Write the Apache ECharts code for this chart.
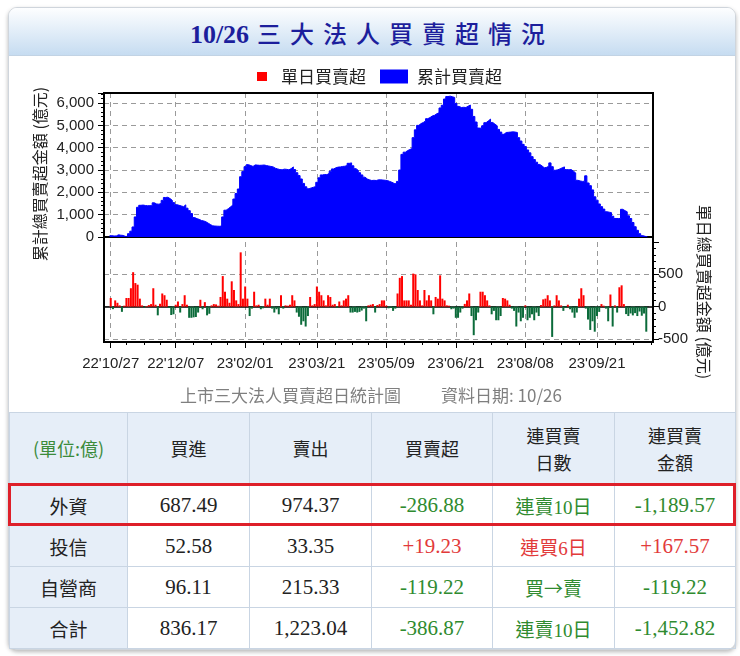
<!DOCTYPE html>
<html>
<head>
<meta charset="utf-8">
<script src="https://cdn.jsdelivr.net/npm/echarts@6/dist/echarts.min.js"></script>
<style>
  html, body { margin: 0; padding: 0; width: 740px; height: 656px; overflow: hidden; background: #fff; font-family: "Noto Sans CJK TC", sans-serif; }
  #card { position: absolute; left: 8px; top: 7px; width: 728px; height: 643px; box-sizing: border-box; border: 1px solid #cfd5dc; border-radius: 9px; box-shadow: 0 2px 4px rgba(0,0,0,0.28); background: #fff; }
  #head { position: absolute; left: 9px; top: 8px; width: 726px; height: 47px; border-radius: 8px 8px 0 0; background: linear-gradient(#fdfeff, #c6dcf1); border-bottom: 1px solid #c2d3e4; text-align: center; line-height: 50px; color: #1c1e9c; font-size: 24px; white-space: nowrap; }
  #head .d { font-family: "Liberation Serif", serif; font-weight: bold; font-size: 26px; letter-spacing: 0; }
  #head .t { font-family: "Noto Sans CJK TC", sans-serif; font-weight: 500; letter-spacing: 9px; margin-left: 8px; }
  #chart { position: absolute; left: 0; top: 0; width: 740px; height: 412px; }
  #tbl { position: absolute; left: 9px; top: 412px; width: 726px; border-collapse: collapse; table-layout: fixed; }
  #tbl td { border: 1px solid #c9d5e3; text-align: center; padding: 0; color: #222; }
  #tbl tr.hd td { height: 71px; background: #e6eef8; font-size: 18px; line-height: 27px; }
  #tbl tr.rw td { height: 40px; font-family: "Liberation Serif", serif; font-size: 21px; }
  #tbl tr.rw td.nm { background: #e6eef8; font-family: "Noto Sans CJK TC", sans-serif; font-size: 19px; }
  #tbl td.cj { font-family: "Noto Sans CJK TC", sans-serif !important; font-size: 19px !important; }
  #tbl td.unit { color: #3b8b3b; font-size: 16px; }
  #mark { position: absolute; left: 8px; top: 483px; width: 728px; height: 43px; box-sizing: border-box; border: 3px solid #de1f29; }
</style>
</head>
<body>
<div id="card"></div>
<div id="head"><span class="d">10/26</span><span class="t">三大法人買賣超情況</span></div>
<div id="chart"></div>
<table id="tbl"></table>
<div id="mark"></div>
<script>
// Daily net buy/sell of the three institutional investors (億元), one value per trading day
const dailyNet = [
  134, -38, 97, 60, 20, -80, 15, 134, 134, 285,
  533, 365, 340, 124, 20, -16, 10, 25, 40, 285,
  30, -134, 45, 204, 177, 107, -20, -129, -118, 30,
  80, -91, 40, 177, 30, -172, -172, -165, -160, -91,
  107, -40, 70, -134, -110, 20, 40, 35, 15, 150,
  473, 231, 124, 60, 392, 258, 97, 40, 840, 124,
  312, 124, -145, -30, 231, 20, 30, -40, -25, 124,
  30, 124, -30, -91, -40, -118, 177, -30, 20, 15,
  30, 177, 97, -91, -156, -280, -226, -307, -145, 150,
  20, 40, 312, 231, 177, 97, 20, 177, 150, 30,
  40, -20, 80, 20, 97, 124, 177, -91, -91, -81,
  -91, -81, -60, -30, -226, 20, 30, 40, -91, 25,
  40, 97, 97, 15, -25, -20, -65, -30, 204, 446,
  473, 97, 97, 97, 30, 511, 500, 258, 97, 20,
  258, 97, 177, 97, -118, 150, 124, 484, 124, 97,
  20, 15, -40, -30, -172, -172, -91, -30, 43, 97,
  204, -145, -441, -210, -91, 231, 231, 177, 97, 20,
  -118, -65, -210, -210, -145, 134, 124, 97, 30, -30,
  -65, -307, -91, -226, -172, 20, -210, -172, -118, -210,
  -91, -145, 25, 113, 124, 177, 97, -468, 20, 177,
  97, 20, -65, -20, 30, -40, -91, -172, -91, 124,
  285, 177, -30, -199, -360, -226, -387, -145, -81, 40,
  15, -30, -226, 188, -307, 20, -91, 300, 330, 40,
  -115, -145, -105, -135, -100, -145, -75, -140, -106, -386.87
];

// Cumulative net buy/sell (億元)
const cumNet = [
  60, 45, 50, 100, 80, 70, 30, 25, 150, 260,
  450, 900, 1330, 1420, 1430, 1410, 1400, 1405, 1400, 1530,
  1480, 1470, 1500, 1640, 1770, 1780, 1720, 1640, 1540, 1450,
  1420, 1390, 1360, 1440, 1290, 1180, 1050, 870, 820, 790,
  740, 720, 680, 620, 560, 500, 490, 485, 480, 490,
  900, 1200, 1270, 1350, 1430, 1700, 1950, 2150, 2700, 2930,
  3150, 3240, 3200, 3160, 3230, 3220, 3210, 3215, 3225, 3200,
  3180, 3160, 3140, 3080, 3050, 3020, 3010, 3040, 3030, 3010,
  3060, 3140, 3020, 2880, 2750, 2600, 2400, 2250, 2160, 2200,
  2230, 2260, 2450, 2650, 2780, 2800, 2790, 2850, 2950, 3050,
  3100, 3130, 3140, 3160, 3170, 3200, 3300, 3320, 3190, 3060,
  2980, 2880, 2780, 2680, 2600, 2560, 2530, 2540, 2530, 2560,
  2560, 2550, 2540, 2530, 2490, 2450, 2400, 2380, 2490, 3000,
  3700, 3800, 3870, 3920, 3960, 4450, 4800, 5000, 5080, 5130,
  5200, 5300, 5350, 5420, 5450, 5520, 5560, 5780, 5900, 6180,
  6290, 6310, 6280, 6250, 5980, 5850, 5800, 5810, 5800, 5860,
  5910, 5720, 5400, 5150, 4880, 4870, 4980, 5120, 5200, 5280,
  5130, 5050, 4980, 4820, 4700, 4600, 4680, 4690, 4700, 4710,
  4700, 4680, 4450, 4300, 4150, 4050, 3900, 3770, 3600, 3470,
  3350, 3250, 3180, 3100, 3120, 3170, 3320, 3150, 2990, 3010,
  3050, 3100, 3140, 3020, 3010, 3020, 2950, 2870, 2540, 2510,
  2490, 2500, 2740, 2420, 2300, 2110, 1800, 1650, 1480, 1360,
  1250, 1130, 1110, 1090, 930, 830, 830, 830, 1240, 1180,
  1130, 950, 830, 650, 460, 300, 150, 60, 30, 10
];

// Date labels and the trading day each one falls on
const tickLabels = ["22'10/27", "22'12/07", "23'02/01", "23'03/21", "23'05/09", "23'06/21", "23'08/08", "23'09/21"];
const tickDayIndex = [0, 29, 60, 92, 123, 154, 185, 217];

// Summary table
const headLabels = [['(單位:億)'], ['買進'], ['賣出'], ['買賣超'], ['連買賣', '日數'], ['連買賣', '金額']];
const investorNames = ['外資', '投信', '自營商', '合計'];
const buyAmount = ['687.49', '52.58', '96.11', '836.17'];
const sellAmount = ['974.37', '33.35', '215.33', '1,223.04'];
const netAmount = [-286.88, 19.23, -119.22, -386.87];
const streakText = ['連賣10日', '連買6日', '買→賣', '連賣10日'];
const streakAmount = [-1189.57, 167.57, -119.22, -1452.82];

// ---------- table ----------
const GREEN = '#2f8b2f', RED = '#e23a3a';
function signed(v) {
  const s = Math.abs(v).toLocaleString('en-US', { minimumFractionDigits: 2, maximumFractionDigits: 2 });
  return (v > 0 ? '+' : '-') + s;
}
(function buildTable() {
  const widths = [118, 122, 122, 121, 122, 121];
  let html = '<colgroup>' + widths.map(w => '<col style="width:' + w + 'px">').join('') + '</colgroup>';
  html += '<tr class="hd">' + headLabels.map((h, i) =>
    '<td' + (i === 0 ? ' class="unit"' : '') + '>' + h.join('<br>') + '</td>').join('') + '</tr>';
  investorNames.forEach((n, r) => {
    const nc = netAmount[r] >= 0 ? RED : GREEN;
    const sc = streakAmount[r] >= 0 ? RED : GREEN;
    html += '<tr class="rw">' +
      '<td class="nm">' + n + '</td>' +
      '<td>' + buyAmount[r] + '</td>' +
      '<td>' + sellAmount[r] + '</td>' +
      '<td style="color:' + nc + '">' + signed(netAmount[r]) + '</td>' +
      '<td class="cj" style="color:' + sc + '">' + streakText[r].replace(/(\d+)/, '<span style="font-family:Liberation Serif,serif">$1</span>') + '</td>' +
      '<td style="color:' + sc + '">' + signed(streakAmount[r]) + '</td></tr>';
  });
  document.getElementById('tbl').innerHTML = html;
})();

// ---------- chart ----------
const PAD = 3;                       // empty slots at each end of the day axis
const N = dailyNet.length;
const cats = [];
for (let i = -PAD; i < N + PAD; i++) cats.push(String(i));
const padded = a => Array(PAD).fill(null).concat(a, Array(PAD).fill(null));

const major = new Map(tickDayIndex.map((d, k) => [d + PAD, tickLabels[k]]));
const minor = new Set();
for (let k = 0; k < tickDayIndex.length; k++) {
  const a = tickDayIndex[k];
  const b = k + 1 < tickDayIndex.length ? tickDayIndex[k + 1] : null;
  for (let q = 1; q <= 3; q++) {
    const d = b !== null ? Math.round(a + (b - a) * q / 4) : a + 8 * q;
    if (d <= N - 1 + PAD) minor.add(d + PAD);
  }
}
const isMajor = idx => major.has(idx);
const isMinor = idx => minor.has(idx);

const AX = '"Liberation Sans", Arial, sans-serif';
const CJK = '"Noto Sans CJK TC", sans-serif';
const dash = { type: [5, 4], color: '#9a9a9a', width: 1 };

const chart = echarts.init(document.getElementById('chart'), null, { renderer: 'canvas' });
chart.setOption({
  animation: false,
  textStyle: { fontFamily: AX },
  grid: [
    { left: 104, right: 87, top: 93, height: 144 },
    { left: 104, right: 87, top: 242, height: 97 }
  ],
  legend: [
    {
      left: 252, top: 63, itemWidth: 10, itemHeight: 9, icon: 'rect',
      data: [{ name: '單日買賣超', itemStyle: { color: '#ff0000' } }],
      textStyle: { fontFamily: CJK, fontSize: 17, color: '#222', padding: [0, 0, 0, 9] }
    },
    {
      left: 375, top: 63, itemWidth: 28, itemHeight: 14, icon: 'rect',
      data: [{ name: '累計買賣超', itemStyle: { color: '#0000ff' } }],
      textStyle: { fontFamily: CJK, fontSize: 17, color: '#222', padding: [0, 0, 0, 4] }
    }
  ],
  xAxis: [
    {
      gridIndex: 0, type: 'category', data: cats, boundaryGap: false,
      axisLine: { onZero: true, lineStyle: { color: '#000', width: 2 } },
      axisTick: { show: false }, axisLabel: { show: false },
      splitLine: { show: true, interval: isMajor, lineStyle: dash }
    },
    {
      gridIndex: 1, type: 'category', data: cats, boundaryGap: false,
      axisLine: { onZero: true, lineStyle: { color: '#000', width: 1.5 } },
      axisTick: { show: false }, axisLabel: { show: false },
      splitLine: { show: true, interval: isMajor, lineStyle: dash }
    },
    {
      gridIndex: 1, type: 'category', data: cats, boundaryGap: false, position: 'bottom', offset: 3,
      axisLine: { show: false, onZero: false },
      axisTick: { show: true, interval: isMajor, length: 6, lineStyle: { color: '#000' } },
      axisLabel: {
        show: true, interval: isMajor, margin: 14, fontSize: 15, color: '#222', fontFamily: AX,
        formatter: (v, idx) => major.get(idx) || ''
      },
      splitLine: { show: false }
    },
    {
      gridIndex: 1, type: 'category', data: cats, boundaryGap: false, position: 'bottom', offset: 3,
      axisLine: { show: false, onZero: false },
      axisTick: { show: true, interval: isMinor, length: 3, lineStyle: { color: '#000' } },
      axisLabel: { show: false }, splitLine: { show: false }
    }
  ],
  yAxis: [
    {
      gridIndex: 0, type: 'value', min: 0, max: 6450, interval: 1000, position: 'left',
      axisLine: { show: true, lineStyle: { color: '#000', width: 1 } },
      axisTick: { show: true, length: 6, lineStyle: { color: '#000' } },
      minorTick: { show: true, splitNumber: 5, length: 3, lineStyle: { color: '#000' } },
      axisLabel: {
        margin: 10, fontSize: 15, color: '#222', fontFamily: AX, showMaxLabel: false,
        formatter: v => v.toLocaleString('en-US')
      },
      splitLine: { show: true, showMaxLine: false, lineStyle: dash }
    },
    {
      gridIndex: 1, type: 'value', min: -500, max: 1000, interval: 500, position: 'right',
      axisLine: { show: true, lineStyle: { color: '#000', width: 1 } },
      axisTick: { show: true, length: 6, lineStyle: { color: '#000' } },
      minorTick: { show: true, splitNumber: 5, length: 3, lineStyle: { color: '#000' } },
      axisLabel: { margin: 5, fontSize: 15, color: '#222', fontFamily: AX, showMaxLabel: false },
      splitLine: { show: true, showMaxLine: false, lineStyle: dash }
    }
  ],
  series: [
    {
      name: '累計買賣超', type: 'line', xAxisIndex: 0, yAxisIndex: 0,
      data: padded(cumNet), step: 'middle', symbol: 'none', silent: true,
      lineStyle: { color: '#0000ff', width: 1 },
      itemStyle: { color: '#0000ff' },
      areaStyle: { color: '#0000ff', opacity: 1 }
    },
    {
      name: '單日買賣超', type: 'bar', xAxisIndex: 1, yAxisIndex: 1,
      data: padded(dailyNet), barWidth: 2, silent: true,
      itemStyle: { color: p => (p.value >= 0 ? '#ff0000' : '#0b6b3a') }
    }
  ],
  graphic: [
    {
      type: 'rect', z: 100, silent: true,
      shape: { x: 104, y: 93, width: 549, height: 249 },
      style: { fill: 'none', stroke: '#000', lineWidth: 2 }
    },
    {
      type: 'text', x: 40, y: 174, rotation: Math.PI / 2, silent: true,
      style: { text: '累計總買賣超金額 (億元)', font: '16px ' + CJK, fill: '#222', textAlign: 'center', textVerticalAlign: 'middle' }
    },
    {
      type: 'text', x: 704, y: 292, rotation: -Math.PI / 2, silent: true,
      style: { text: '單日總買賣超金額 (億元)', font: '16px ' + CJK, fill: '#222', textAlign: 'center', textVerticalAlign: 'middle' }
    },
    {
      type: 'text', x: 180, y: 396, silent: true,
      style: { text: '上市三大法人買賣超日統計圖', font: '17px ' + CJK, fill: '#7f7f7f', textAlign: 'left', textVerticalAlign: 'middle' }
    },
    {
      type: 'text', x: 441, y: 396, silent: true,
      style: { text: '資料日期: 10/26', font: '17px ' + CJK, fill: '#7f7f7f', textAlign: 'left', textVerticalAlign: 'middle' }
    }
  ]
});
</script>
</body>
</html>
